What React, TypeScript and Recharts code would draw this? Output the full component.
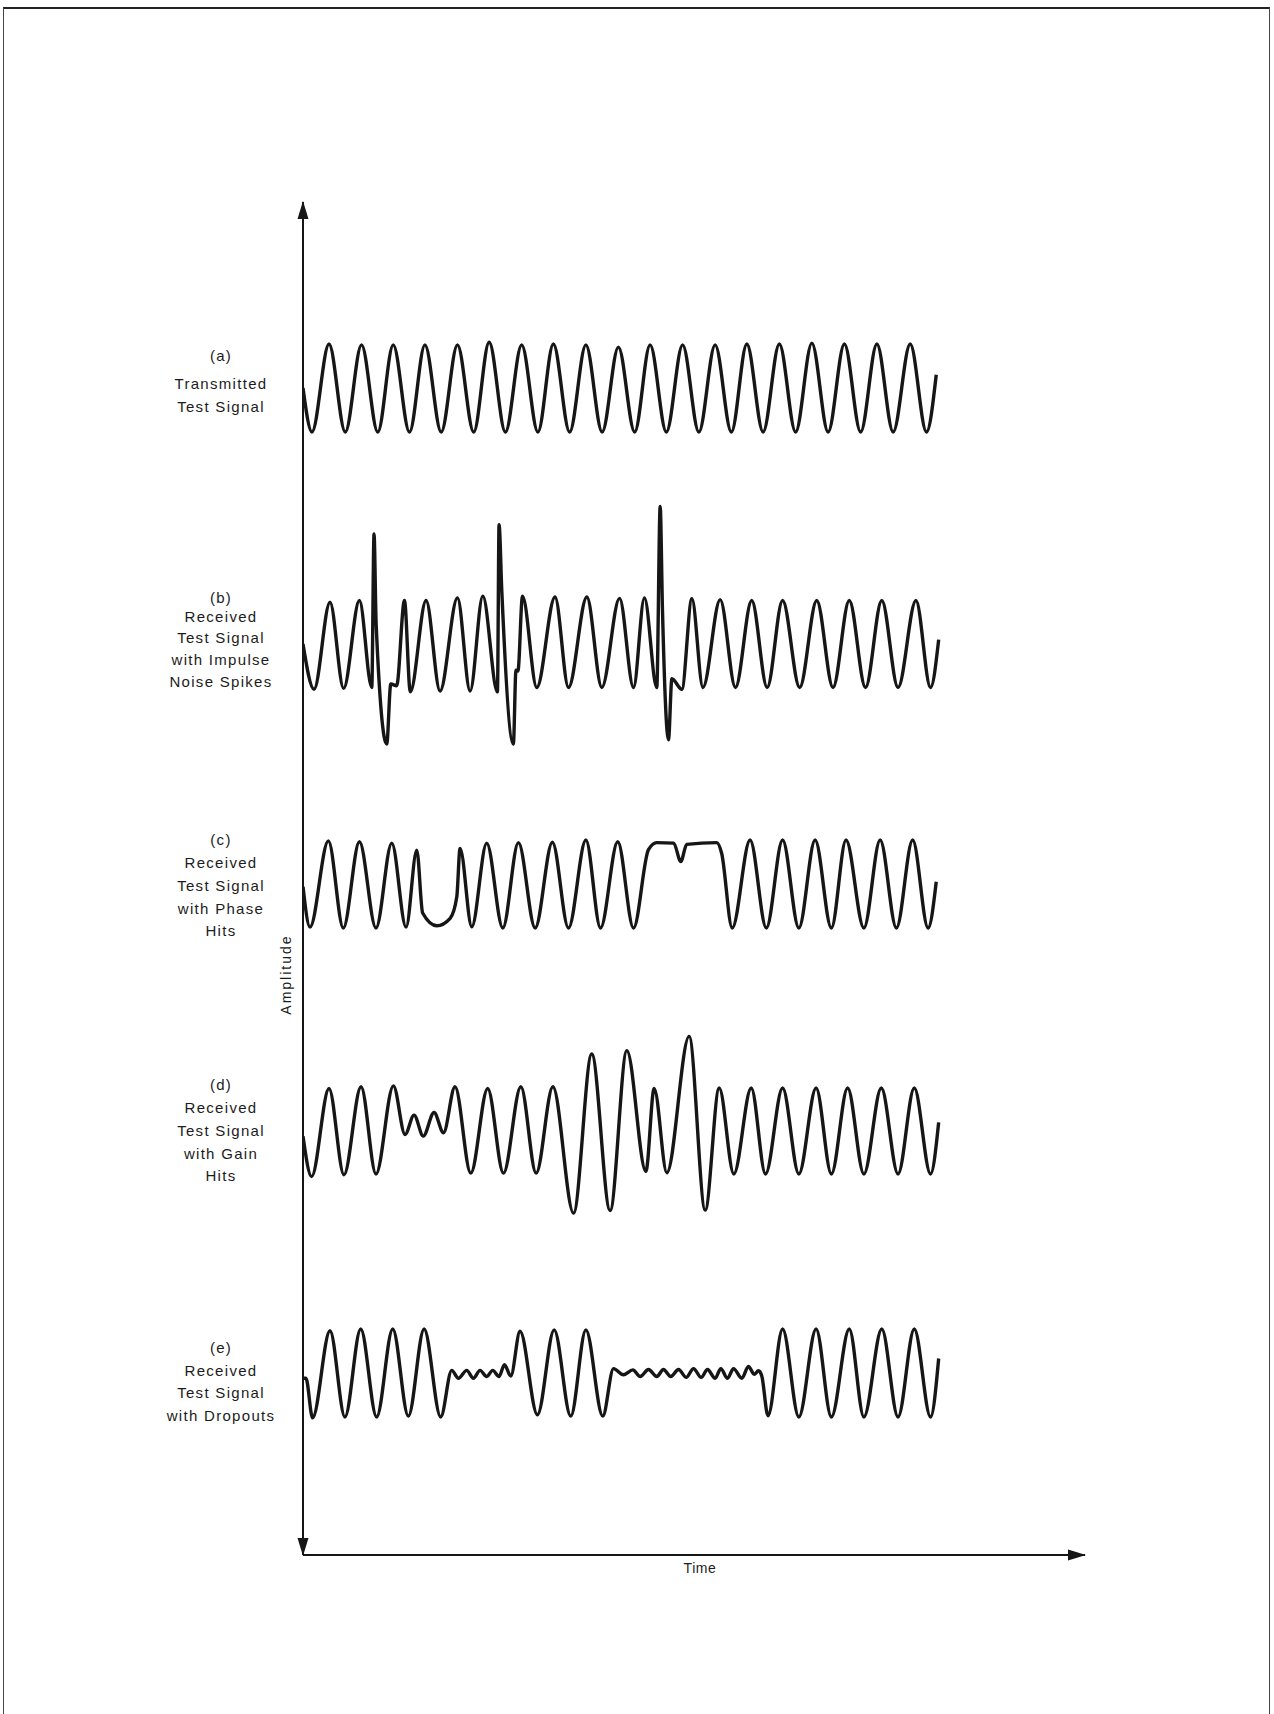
import { LineChart, Line, XAxis, YAxis, ReferenceDot } from 'recharts'

// time is counted in half-cycles of the test tone, amplitude in units of a normal peak
type Pt = [number, number]

const transmitted: Pt[] = [
  [0, 0], [0.55, -1], [1.6, 1], [2.6, -1], [3.6, 0.98], [4.6, -1], [5.55, 0.98], [6.55, -1],
  [7.5, 0.98], [8.5, -1], [9.5, 0.98], [10.5, -1], [11.45, 1.04], [12.45, -1], [13.45, 0.98],
  [14.45, -1], [15.4, 1], [16.4, -1], [17.4, 0.98], [18.4, -1], [19.4, 0.93], [20.4, -1],
  [21.35, 0.98], [22.35, -1], [23.35, 0.98], [24.35, -1], [25.35, 0.98], [26.35, -1],
  [27.3, 1], [28.3, -1], [29.3, 1], [30.3, -1], [31.3, 1.02], [32.3, -1], [33.3, 1],
  [34.3, -1], [35.3, 1], [36.3, -1], [37.35, 1], [38.35, -1], [38.95, 0.3],
]

const impulseNoise: Pt[] = [
  [0, 0], [0.68, -1.04], [1.66, 0.96], [2.5, -1.02], [3.47, 1], [4.23, -1], [4.37, 2.53],
  [4.5, 0.45], [5.15, -2.3], [5.4, -0.92], [5.76, -0.96], [6.24, 1], [6.6, -1.1], [7.57, 1],
  [8.43, -1.08], [9.5, 1.06], [10.28, -1.08], [11.06, 1.1], [11.96, -1.1], [12.06, 2.74],
  [12.23, 1.2], [12.94, -2.3], [13.1, -0.6], [13.22, -0.62], [13.5, 1.1], [14.38, -1],
  [15.5, 1.08], [16.33, -1], [17.46, 1.08], [18.38, -1], [19.47, 1.05], [20.33, -1],
  [21, 1.06], [21.76, -1], [21.97, 3.16], [22.11, 0.8], [22.48, -2.2], [22.69, -0.8],
  [23.3, -1.04], [23.92, 1.04], [24.6, -1], [25.66, 1.02], [26.6, -1], [27.6, 1],
  [28.55, -1], [29.5, 1], [30.55, -1], [31.6, 1], [32.6, -1], [33.6, 1], [34.6, -1],
  [35.6, 1], [36.6, -1], [37.7, 1], [38.6, -1], [39.1, 0.1],
]

const phaseHits: Pt[] = [
  [0, -0.06], [0.43, -0.98], [1.56, 0.98], [2.48, -1], [3.47, 0.96], [4.49, -1], [5.46, 0.93],
  [6.34, -0.98], [7, 0.77], [7.36, -0.66], [8.23, -0.95], [9.05, -0.78], [9.46, -0.29],
  [9.66, 0.81], [10.38, -0.97], [11.3, 0.93], [12.29, -1], [13.25, 0.94], [14.28, -1],
  [15.34, 0.95], [16.33, -1], [17.4, 1], [18.3, -1], [19.36, 0.96], [20.33, -1],
  [21.25, 0.78], [21.76, 0.94], [22.8, 0.93], [23.24, 0.51], [23.6, 0.9], [25.45, 0.94],
  [25.75, 0.7], [26.4, -1], [27.5, 1], [28.5, -1], [29.5, 1], [30.5, -1], [31.5, 1],
  [32.5, -1], [33.4, 1], [34.5, -1], [35.5, 1], [36.5, -1], [37.5, 1], [38.45, -1],
  [38.95, 0.05],
]

const gainHits: Pt[] = [
  [0, -0.12], [0.53, -1.06], [1.6, 0.99], [2.52, -1.02], [3.57, 1.03], [4.49, -1], [5.56, 1.05],
  [6.28, -0.08], [6.83, 0.37], [7.4, -0.12], [8.06, 0.43], [8.64, -0.04], [9.35, 1.03],
  [10.32, -0.98], [11.36, 0.99], [12.33, -0.98], [13.4, 1.03], [14.34, -0.98], [15.37, 1.03],
  [16.64, -1.91], [17.76, 1.79], [18.89, -1.85], [19.92, 1.87], [21.09, -0.94], [21.6, 0.99],
  [22.38, -0.97], [23.75, 2.2], [24.74, -1.84], [25.6, 1], [26.5, -1], [27.57, 1],
  [28.45, -1], [29.5, 1], [30.5, -1], [31.56, 1], [32.5, -1], [33.5, 1], [34.5, -1],
  [35.57, 1], [36.6, -1], [37.6, 1], [38.6, -1], [39.1, 0.2],
]

const dropouts: Pt[] = [
  [0, -0.12], [0.18, -0.12], [0.59, -1.02], [1.66, 0.96], [2.58, -1], [3.55, 1], [4.53, -1],
  [5.52, 1], [6.48, -0.98], [7.45, 1], [8.47, -1], [9.15, 0.06], [9.56, -0.12], [10.07, 0.06],
  [10.48, -0.12], [10.89, 0.06], [11.3, -0.08], [11.67, 0.06], [12.06, -0.08], [12.39, 0.19],
  [12.78, -0.07], [13.35, 0.95], [14.42, -0.95], [15.45, 0.98], [16.47, -0.98], [17.4, 0.98],
  [18.44, -0.98], [19.1, 0.1], [19.71, -0.04], [20.29, 0.07], [20.74, -0.08], [21.25, 0.08],
  [21.76, -0.08], [22.17, 0.08], [22.62, -0.08], [23.1, 0.08], [23.57, -0.1], [24.02, 0.1],
  [24.49, -0.1], [24.88, 0.08], [25.35, -0.12], [25.7, 0.1], [26.11, -0.12], [26.48, 0.1],
  [26.99, -0.12], [27.4, 0.15], [27.75, -0.03], [28.02, 0.05], [28.22, -0.07], [28.6, -0.97],
  [29.5, 1], [30.5, -1], [31.56, 1], [32.5, -1], [33.6, 1], [34.5, -1], [35.6, 1], [36.6, -1],
  [37.6, 1], [38.6, -1], [39.1, 0.33],
]

const labelA = ['(a)', 'Transmitted', 'Test Signal']
const labelB = ['(b)', 'Received', 'Test Signal', 'with Impulse', 'Noise Spikes']
const labelC = ['(c)', 'Received', 'Test Signal', 'with Phase', 'Hits']
const labelD = ['(d)', 'Received', 'Test Signal', 'with Gain', 'Hits']
const labelE = ['(e)', 'Received', 'Test Signal', 'with Dropouts']

const W = 1274
const H = 1714
const PLOT_LEFT = 303
const PLOT_RIGHT = 1085
const PLOT_TOP = 202
const PLOT_BOTTOM = 1555
const X_MAX = 48.1
const INK = '#161616'
const FONT = '"Liberation Sans", Arial, sans-serif'

// where each trace sits on the page (centre line and px per unit)
const panels = [
  { id: 'a', data: transmitted, lines: labelA, center: 388, amp: 44, offs: [-33, -5, 18] },
  { id: 'b', data: impulseNoise, lines: labelB, center: 644, amp: 43.5, offs: [-47, -28, -7, 15, 37] },
  { id: 'c', data: phaseHits, lines: labelC, center: 884, amp: 44, offs: [-45, -22, 1, 24, 46] },
  { id: 'd', data: gainHits, lines: labelD, center: 1131, amp: 43, offs: [-47, -24, -1, 22, 44] },
  { id: 'e', data: dropouts, lines: labelE, center: 1373, amp: 44, offs: [-26, -3, 19, 42] },
]

const toPoints = (pts: Pt[]) => pts.map(([t, v]) => ({ t, v }))

function PanelLabel({ cx, cy, lines, offs }: any) {
  return (
    <g>
      {lines.map((s: string, i: number) => (
        <text
          key={i}
          x={cx - 82}
          y={cy + offs[i]}
          textAnchor="middle"
          dominantBaseline="central"
          fontFamily={FONT}
          fontSize={15}
          letterSpacing={1.3}
          fill="#1c1c1c"
        >
          {s}
        </text>
      ))}
    </g>
  )
}

function AmplitudeLabel(props: any) {
  const vb = props.viewBox || { x: PLOT_LEFT - 1, y: PLOT_TOP, width: 1, height: PLOT_BOTTOM - PLOT_TOP }
  const x = vb.x + (vb.width || 0) - 17
  const y = vb.y + vb.height * 0.571
  return (
    <text
      x={x}
      y={y}
      transform={`rotate(-90 ${x} ${y})`}
      textAnchor="middle"
      dominantBaseline="central"
      fontFamily={FONT}
      fontSize={14}
      letterSpacing={2}
      fill="#1c1c1c"
    >
      Amplitude
    </text>
  )
}

function TimeLabel(props: any) {
  const vb = props.viewBox || { x: PLOT_LEFT, y: PLOT_BOTTOM, width: PLOT_RIGHT - PLOT_LEFT }
  return (
    <text
      x={vb.x + vb.width / 2 + 6}
      y={vb.y + 13}
      textAnchor="middle"
      dominantBaseline="central"
      fontFamily={FONT}
      fontSize={14}
      letterSpacing={0.6}
      fill="#1c1c1c"
    >
      Time
    </text>
  )
}

export default function App() {
  return (
    <div style={{ position: 'absolute', left: 0, top: 0, width: W, height: H, background: '#fff' }}>
      <div
        style={{
          position: 'absolute',
          left: 3,
          top: 7,
          width: 1267,
          height: H - 7,
          borderTop: '2px solid #222',
          borderLeft: '1px solid #444',
          borderRight: '1px solid #444',
          boxSizing: 'border-box',
        }}
      />
      <LineChart
        width={W}
        height={H}
        margin={{ top: PLOT_TOP, right: W - PLOT_RIGHT, bottom: H - PLOT_BOTTOM - 30, left: PLOT_LEFT - 1 }}
        style={{ position: 'absolute', left: 0, top: 0 }}
      >
        <defs>
          <marker
            id="arrowHead"
            markerUnits="userSpaceOnUse"
            markerWidth={18}
            markerHeight={12}
            refX={17}
            refY={6}
            orient="auto-start-reverse"
          >
            <path d="M0,0.5 L18,6 L0,11.5 Z" fill={INK} />
          </marker>
        </defs>
        <XAxis
          dataKey="t"
          type="number"
          domain={[0, X_MAX]}
          allowDataOverflow
          height={30}
          tick={false}
          tickLine={false}
          axisLine={{ stroke: INK, strokeWidth: 2, markerEnd: 'url(#arrowHead)' }}
          label={TimeLabel}
        />
        {panels.map((p) => (
          <YAxis
            key={p.id}
            yAxisId={p.id}
            type="number"
            hide
            width={0}
            allowDataOverflow
            domain={[-(PLOT_BOTTOM - p.center) / p.amp, (p.center - PLOT_TOP) / p.amp]}
          />
        ))}
        <YAxis
          yAxisId="frame"
          type="number"
          domain={[0, 1]}
          width={1}
          tick={false}
          tickLine={false}
          axisLine={{
            stroke: INK,
            strokeWidth: 2,
            markerStart: 'url(#arrowHead)',
            markerEnd: 'url(#arrowHead)',
          }}
          label={AmplitudeLabel}
        />
        {panels.map((p) => (
          <ReferenceDot
            key={'lbl' + p.id}
            x={0}
            y={0}
            yAxisId={p.id}
            r={1}
            shape={(s: any) => <PanelLabel cx={s.cx} cy={s.cy} lines={p.lines} offs={p.offs} />}
          />
        ))}
        {panels.map((p) => (
          <Line
            key={'line' + p.id}
            yAxisId={p.id}
            data={toPoints(p.data)}
            dataKey="v"
            type="monotone"
            stroke={INK}
            strokeWidth={3.4}
            strokeLinejoin="round"
            dot={false}
            activeDot={false}
            isAnimationActive={false}
          />
        ))}
      </LineChart>
    </div>
  )
}
